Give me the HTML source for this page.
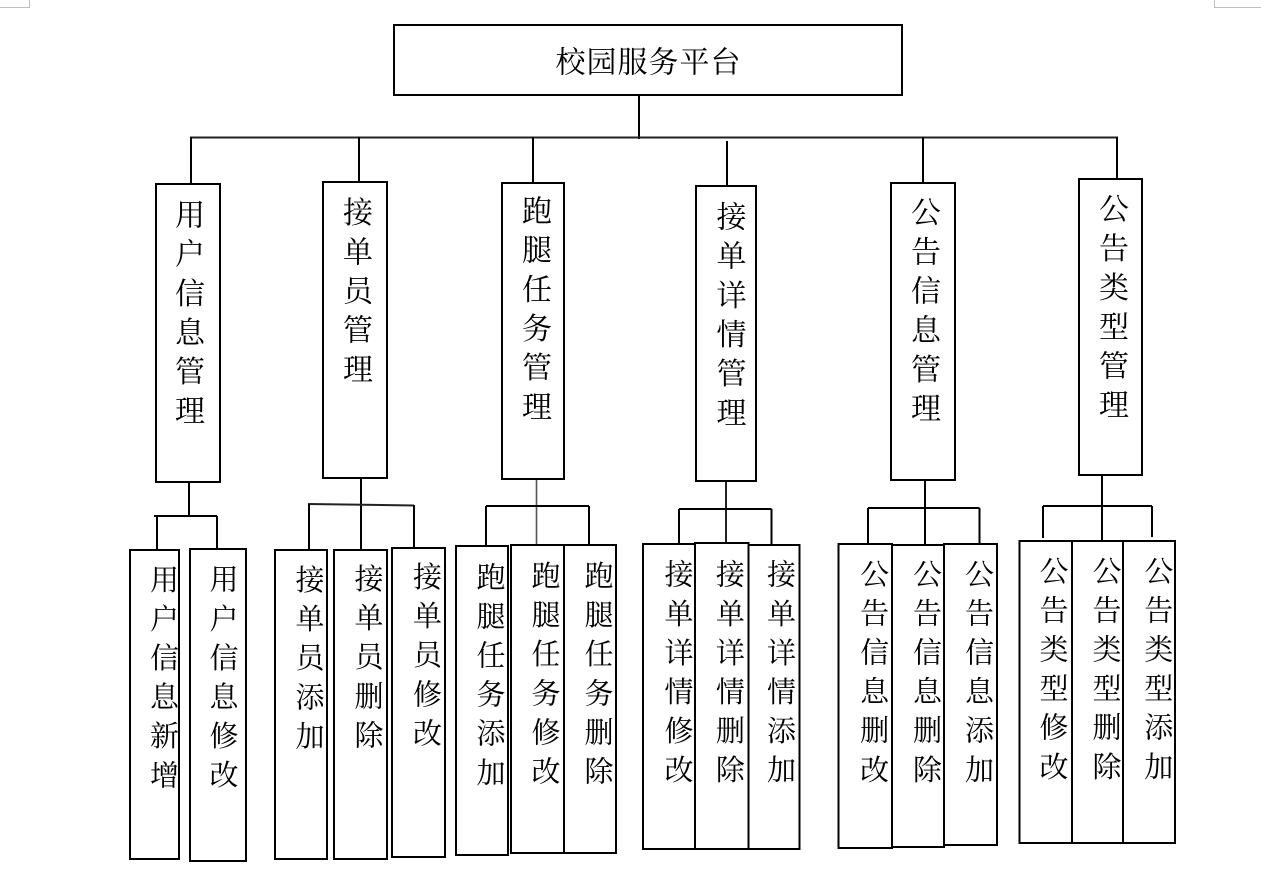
<!DOCTYPE html>
<html>
<head>
<meta charset="utf-8">
<style>
  html,body{margin:0;padding:0;background:#fff;}
  body{width:1261px;height:885px;overflow:hidden;}
  svg{display:block;}
  text{font-family:"Liberation Serif","Noto Serif CJK SC",serif;fill:#000;text-anchor:middle;}
  .m{font-size:30px;}
  .s{font-size:29px;}
</style>
</head>
<body>
<svg width="1261" height="885" viewBox="0 0 1261 885" xmlns="http://www.w3.org/2000/svg">
  <rect x="0" y="0" width="1261" height="885" fill="#fff"/>
  <!-- corner marks -->
  <g stroke="#bdbdbd" stroke-width="1" fill="none">
    <polyline points="0,7.5 29.5,7.5 29.5,0"/>
    <polyline points="1261,7.5 1214.5,7.5 1214.5,0"/>
  </g>

  <!-- connectors -->
  <g stroke="#000" stroke-width="2" fill="none">
    <line x1="639" y1="95" x2="639" y2="139"/>
    <line x1="190" y1="137.5" x2="1118" y2="137.5" stroke="#222"/>
    <line x1="191" y1="137" x2="191" y2="184"/>
    <line x1="359" y1="137" x2="359" y2="182"/>
    <line x1="533" y1="137" x2="533" y2="183"/>
    <line x1="727" y1="141" x2="727" y2="186"/>
    <line x1="923" y1="137" x2="923" y2="183"/>
    <line x1="1117" y1="137" x2="1117" y2="179"/>

    <!-- group 1 -->
    <line x1="189" y1="482" x2="189" y2="516"/>
    <line x1="154" y1="516" x2="217" y2="516"/>
    <line x1="157" y1="516" x2="157" y2="550"/>
    <line x1="217" y1="516" x2="217" y2="549"/>
    <!-- group 2 -->
    <line x1="361" y1="478" x2="361" y2="550"/>
    <line x1="308" y1="504" x2="414" y2="505.5" stroke="#222"/>
    <line x1="309" y1="504" x2="309" y2="550"/>
    <line x1="414" y1="505" x2="414" y2="548"/>
    <!-- group 3 -->
    <line x1="536.5" y1="479" x2="536.5" y2="545" stroke="#555" stroke-width="1.6"/>
    <line x1="486" y1="506" x2="589" y2="506"/>
    <line x1="486" y1="506" x2="486" y2="546"/>
    <line x1="589" y1="506" x2="589" y2="545"/>
    <!-- group 4 -->
    <line x1="726" y1="481" x2="726" y2="543" stroke="#222"/>
    <line x1="679" y1="509" x2="771.5" y2="509"/>
    <line x1="679" y1="509" x2="679" y2="544"/>
    <line x1="771.5" y1="509" x2="771.5" y2="545"/>
    <!-- group 5 -->
    <line x1="925" y1="480" x2="925" y2="545"/>
    <line x1="868" y1="508" x2="979.5" y2="508"/>
    <line x1="868" y1="508" x2="868" y2="544"/>
    <line x1="979.5" y1="508" x2="979.5" y2="544"/>
    <!-- group 6 -->
    <line x1="1102" y1="475" x2="1102" y2="541"/>
    <line x1="1043" y1="506" x2="1152" y2="506"/>
    <line x1="1043" y1="506" x2="1043" y2="538"/>
    <line x1="1152" y1="506" x2="1152" y2="537"/>
  </g>

  <!-- boxes -->
  <g stroke="#000" stroke-width="2" fill="none">
    <rect x="394" y="25" width="508" height="70"/>
    <rect x="156" y="184" width="64" height="298"/>
    <rect x="323" y="182" width="64" height="296"/>
    <rect x="502" y="183" width="62" height="296"/>
    <rect x="696" y="186" width="60" height="295"/>
    <rect x="891" y="183" width="64" height="297"/>
    <rect x="1079" y="179" width="63" height="296"/>

    <rect x="130" y="550" width="49" height="309"/>
    <rect x="190" y="549" width="56" height="312"/>

    <rect x="275" y="550" width="52" height="309"/>
    <rect x="334" y="550" width="53" height="309"/>
    <rect x="392" y="548" width="53" height="309"/>

    <rect x="456" y="546" width="52" height="309"/>
    <rect x="511" y="545" width="53" height="308"/>
    <rect x="564" y="545" width="52" height="308"/>

    <rect x="643" y="544" width="52" height="305"/>
    <rect x="695" y="543" width="53.5" height="306"/>
    <rect x="748.5" y="545" width="51" height="304"/>

    <rect x="838.5" y="544" width="53.5" height="304"/>
    <rect x="892" y="545" width="52" height="302"/>
    <rect x="944" y="544" width="53" height="301"/>

    <rect x="1019.5" y="541" width="52.5" height="302"/>
    <rect x="1072" y="541" width="51" height="302"/>
    <rect x="1123" y="541" width="52" height="302"/>
  </g>

  <!-- title -->
  <text class="m"><tspan x="570.5" y="72.4">校</tspan><tspan x="601.5" y="72.4">园</tspan><tspan x="632.5" y="72.4">服</tspan><tspan x="663.5" y="72.4">务</tspan><tspan x="694.5" y="72.4">平</tspan><tspan x="725.5" y="72.4">台</tspan></text>

  <!-- mid level -->
  <text class="m"><tspan x="190" y="225.4">用</tspan><tspan x="190" y="264.6">户</tspan><tspan x="190" y="303.8">信</tspan><tspan x="190" y="343">息</tspan><tspan x="190" y="382.2">管</tspan><tspan x="190" y="421.4">理</tspan></text>
  <text class="m"><tspan x="358" y="223.1">接</tspan><tspan x="358" y="262.3">单</tspan><tspan x="358" y="301.5">员</tspan><tspan x="358" y="340.7">管</tspan><tspan x="358" y="379.9">理</tspan></text>
  <text class="m"><tspan x="537" y="221.4">跑</tspan><tspan x="537" y="260.6">腿</tspan><tspan x="537" y="299.8">任</tspan><tspan x="537" y="339">务</tspan><tspan x="537" y="378.2">管</tspan><tspan x="537" y="417.4">理</tspan></text>
  <text class="m"><tspan x="731.5" y="227.4">接</tspan><tspan x="731.5" y="266.6">单</tspan><tspan x="731.5" y="305.8">详</tspan><tspan x="731.5" y="345">情</tspan><tspan x="731.5" y="384.2">管</tspan><tspan x="731.5" y="423.4">理</tspan></text>
  <text class="m"><tspan x="926" y="223.1">公</tspan><tspan x="926" y="262.3">告</tspan><tspan x="926" y="301.5">信</tspan><tspan x="926" y="340.7">息</tspan><tspan x="926" y="379.9">管</tspan><tspan x="926" y="419.1">理</tspan></text>
  <text class="m"><tspan x="1114" y="219.7">公</tspan><tspan x="1114" y="258.9">告</tspan><tspan x="1114" y="298.1">类</tspan><tspan x="1114" y="337.3">型</tspan><tspan x="1114" y="376.5">管</tspan><tspan x="1114" y="415.7">理</tspan></text>

  <!-- bottom level group 1 -->
  <text class="s"><tspan x="164.5" y="589.8">用</tspan><tspan x="164.5" y="628.9">户</tspan><tspan x="164.5" y="668">信</tspan><tspan x="164.5" y="707.1">息</tspan><tspan x="164.5" y="746.2">新</tspan><tspan x="164.5" y="785.3">增</tspan></text>
  <text class="s"><tspan x="224" y="589.7">用</tspan><tspan x="224" y="628.8">户</tspan><tspan x="224" y="667.9">信</tspan><tspan x="224" y="707">息</tspan><tspan x="224" y="746.1">修</tspan><tspan x="224" y="785.2">改</tspan></text>

  <!-- group 2 -->
  <text class="s"><tspan x="310" y="590">接</tspan><tspan x="310" y="629.1">单</tspan><tspan x="310" y="668.2">员</tspan><tspan x="310" y="707.3">添</tspan><tspan x="310" y="746.4">加</tspan></text>
  <text class="s"><tspan x="369" y="589">接</tspan><tspan x="369" y="628.1">单</tspan><tspan x="369" y="667.2">员</tspan><tspan x="369" y="706.3">删</tspan><tspan x="369" y="745.4">除</tspan></text>
  <text class="s"><tspan x="427.5" y="587">接</tspan><tspan x="427.5" y="626.1">单</tspan><tspan x="427.5" y="665.2">员</tspan><tspan x="427.5" y="704.3">修</tspan><tspan x="427.5" y="743.4">改</tspan></text>

  <!-- group 3 -->
  <text class="s"><tspan x="491" y="587.3">跑</tspan><tspan x="491" y="626.4">腿</tspan><tspan x="491" y="665.5">任</tspan><tspan x="491" y="704.6">务</tspan><tspan x="491" y="743.7">添</tspan><tspan x="491" y="782.8">加</tspan></text>
  <text class="s"><tspan x="546" y="586">跑</tspan><tspan x="546" y="625.1">腿</tspan><tspan x="546" y="664.2">任</tspan><tspan x="546" y="703.3">务</tspan><tspan x="546" y="742.4">修</tspan><tspan x="546" y="781.5">改</tspan></text>
  <text class="s"><tspan x="599" y="586">跑</tspan><tspan x="599" y="625.1">腿</tspan><tspan x="599" y="664.2">任</tspan><tspan x="599" y="703.3">务</tspan><tspan x="599" y="742.4">删</tspan><tspan x="599" y="781.5">除</tspan></text>

  <!-- group 4 -->
  <text class="s"><tspan x="679" y="584.7">接</tspan><tspan x="679" y="623.8">单</tspan><tspan x="679" y="662.9">详</tspan><tspan x="679" y="702">情</tspan><tspan x="679" y="741.1">修</tspan><tspan x="679" y="780.2">改</tspan></text>
  <text class="s"><tspan x="730.4" y="584.7">接</tspan><tspan x="730.4" y="623.8">单</tspan><tspan x="730.4" y="662.9">详</tspan><tspan x="730.4" y="702">情</tspan><tspan x="730.4" y="741.1">删</tspan><tspan x="730.4" y="780.2">除</tspan></text>
  <text class="s"><tspan x="781.5" y="584.7">接</tspan><tspan x="781.5" y="623.8">单</tspan><tspan x="781.5" y="662.9">详</tspan><tspan x="781.5" y="702">情</tspan><tspan x="781.5" y="741.1">添</tspan><tspan x="781.5" y="780.2">加</tspan></text>

  <!-- group 5 -->
  <text class="s"><tspan x="874.6" y="584.3">公</tspan><tspan x="874.6" y="623.4">告</tspan><tspan x="874.6" y="662.5">信</tspan><tspan x="874.6" y="701.6">息</tspan><tspan x="874.6" y="740.7">删</tspan><tspan x="874.6" y="779.8">改</tspan></text>
  <text class="s"><tspan x="927.5" y="584.3">公</tspan><tspan x="927.5" y="623.4">告</tspan><tspan x="927.5" y="662.5">信</tspan><tspan x="927.5" y="701.6">息</tspan><tspan x="927.5" y="740.7">删</tspan><tspan x="927.5" y="779.8">除</tspan></text>
  <text class="s"><tspan x="979.5" y="584.3">公</tspan><tspan x="979.5" y="623.4">告</tspan><tspan x="979.5" y="662.5">信</tspan><tspan x="979.5" y="701.6">息</tspan><tspan x="979.5" y="740.7">添</tspan><tspan x="979.5" y="779.8">加</tspan></text>

  <!-- group 6 -->
  <text class="s"><tspan x="1054" y="581.3">公</tspan><tspan x="1054" y="620.4">告</tspan><tspan x="1054" y="659.5">类</tspan><tspan x="1054" y="698.6">型</tspan><tspan x="1054" y="737.7">修</tspan><tspan x="1054" y="776.8">改</tspan></text>
  <text class="s"><tspan x="1107" y="581.3">公</tspan><tspan x="1107" y="620.4">告</tspan><tspan x="1107" y="659.5">类</tspan><tspan x="1107" y="698.6">型</tspan><tspan x="1107" y="737.7">删</tspan><tspan x="1107" y="776.8">除</tspan></text>
  <text class="s"><tspan x="1158.7" y="581.3">公</tspan><tspan x="1158.7" y="620.4">告</tspan><tspan x="1158.7" y="659.5">类</tspan><tspan x="1158.7" y="698.6">型</tspan><tspan x="1158.7" y="737.7">添</tspan><tspan x="1158.7" y="776.8">加</tspan></text>
</svg>
</body>
</html>
